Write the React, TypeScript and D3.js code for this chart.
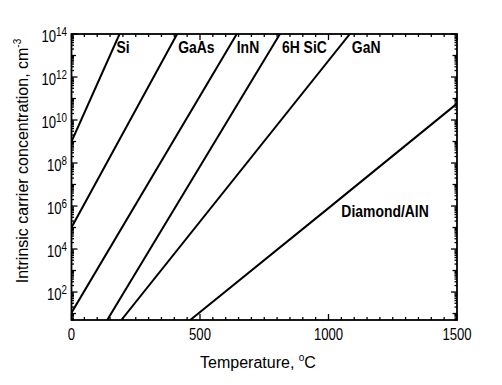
import React from 'react';
import * as d3 from 'd3';

// intrinsic carrier concentration vs temperature
const materials = ['Si', 'GaAs', 'InN', '6H SiC', 'GaN', 'Diamond/AlN'];
const temps = [
  [0, 187],
  [0, 411],
  [0, 643],
  [139, 811],
  [194, 1083],
  [462, 1000, 1500],
];
const conc = [
  [1e9, 1e14],
  [1e5, 1e14],
  [11, 1e14],
  [5, 1e14],
  [5, 1e14],
  [5, 8e5, 5.8e10],
];
const xTickLabels = [0, 500, 1000, 1500];
const yTickExponents = [2, 4, 6, 8, 10, 12, 14];

const W = 502;
const H = 385;
const left = 71.5;
const right = 457;
const top = 34;
const bottom = 320;

const SQ = 0.82; // labels in the figure are set in a narrow face
const font = 'Liberation Sans, Arial, Helvetica, sans-serif';

const Narrow = ({ x, y, anchor = 'start', size, weight = 'normal', children }: any) => (
  <g transform={`translate(${x},${y}) scale(${SQ},1)`}>
    <text fontSize={size} fontWeight={weight} textAnchor={anchor} fontFamily={font} fill="#000">
      {children}
    </text>
  </g>
);

export default function App() {
  const x = d3.scaleLinear().domain([0, 1500]).range([left, right]);
  const y = d3.scaleLog().domain([5, 1e14]).range([bottom, top]);

  const line = d3
    .line<[number, number]>()
    .x((d) => x(d[0]))
    .y((d) => y(d[1]));

  const xMinor = d3.range(0, 1501, 50);
  const yMinor: number[] = [];
  for (let e = 0; e < 14; e++) {
    for (let k = 1; k < 10; k++) {
      const v = k * Math.pow(10, e);
      if (v >= 5 && v <= 1e14) yMinor.push(v);
    }
  }
  yMinor.push(1e14);

  const nudge = [-3, 1, 0, 2, 2];

  return (
    <svg
      width={W}
      height={H}
      style={{ position: 'absolute', left: 0, top: 0, background: '#fff' }}
    >
      <defs>
        <clipPath id="plot">
          <rect x={left} y={top} width={right - left} height={bottom - top} />
        </clipPath>
      </defs>

      {/* data lines */}
      <g clipPath="url(#plot)">
        {materials.map((m, i) => (
          <path
            key={m}
            d={line(temps[i].map((t, j) => [t, conc[i][j]] as [number, number])) || ''}
            fill="none"
            stroke="#000"
            strokeWidth={2}
          />
        ))}
      </g>

      {/* x ticks, bottom and top, pointing inward */}
      {xMinor.map((t) => {
        const major = t % 500 === 0;
        const len = major ? 6 : 3;
        return (
          <g key={'xt' + t} stroke="#000" strokeWidth={1.3}>
            <line x1={x(t)} x2={x(t)} y1={bottom} y2={bottom - len} />
            <line x1={x(t)} x2={x(t)} y1={top} y2={top + len} />
          </g>
        );
      })}

      {/* y ticks, left and right */}
      {yMinor.map((v) => {
        const e = Math.log10(v);
        const isDecade = Math.abs(e - Math.round(e)) < 1e-9;
        const len = isDecade ? (Math.round(e) % 2 === 0 ? 6 : 4.5) : 2.5;
        return (
          <g key={'yt' + v} stroke="#000" strokeWidth={1.3}>
            <line x1={left} x2={left + len} y1={y(v)} y2={y(v)} />
            <line x1={right} x2={right - len} y1={y(v)} y2={y(v)} />
          </g>
        );
      })}

      {/* frame */}
      <rect
        x={left}
        y={top}
        width={right - left}
        height={bottom - top}
        fill="none"
        stroke="#000"
        strokeWidth={1.8}
      />

      {/* x tick labels */}
      {xTickLabels.map((t) => (
        <Narrow key={'xl' + t} x={x(t)} y={bottom + 20} anchor="middle" size={16}>
          {t}
        </Narrow>
      ))}

      {/* y tick labels: 10^n */}
      {yTickExponents.map((e) => (
        <Narrow key={'yl' + e} x={left - 4.5} y={y(Math.pow(10, e)) + 7.5} anchor="end" size={16}>
          10
          <tspan fontSize={12} dy={-6}>
            {e}
          </tspan>
        </Narrow>
      ))}

      {/* material labels */}
      {materials.slice(0, 5).map((m, i) => (
        <Narrow
          key={'ml' + m}
          x={x(temps[i][temps[i].length - 1]) + nudge[i]}
          y={top + 19}
          size={17}
          weight="bold"
        >
          {m}
        </Narrow>
      ))}
      <Narrow x={x(1050)} y={y(Math.pow(10, 5.5))} size={17} weight="bold">
        {materials[5]}
      </Narrow>

      {/* axis titles */}
      <text x={258} y={368} textAnchor="middle" fontSize={16} fontFamily={font} fill="#000">
        Temperature,{' '}
        <tspan fontSize={10} dy={-7}>
          o
        </tspan>
        <tspan dy={7}>C</tspan>
      </text>
      <text
        transform={`translate(28,161) rotate(-90)`}
        textAnchor="middle"
        fontSize={16}
        fontFamily={font}
        fill="#000"
      >
        Intrinsic carrier concentration, cm
        <tspan fontSize={10} dy={-7}>
          -3
        </tspan>
      </text>
    </svg>
  );
}
